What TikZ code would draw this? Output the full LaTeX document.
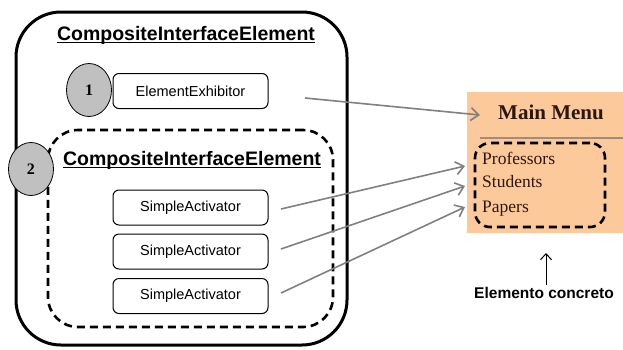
\documentclass[tikz,border=0pt]{standalone}
\usepackage{fontspec}
\setmainfont{Liberation Sans}
\newfontfamily\seriffont{Liberation Serif}
\usetikzlibrary{arrows.meta,shapes.geometric}
\definecolor{peach}{RGB}{252,201,155}
\definecolor{menutext}{RGB}{45,22,14}
\definecolor{conngray}{RGB}{128,128,128}
\tikzset{
  outerbox/.style={draw, line width=3pt, rounded corners=45pt, inner sep=0pt},
  dashbox/.style={draw, line width=2.6pt, dash pattern=on 8pt off 5pt, rounded corners=30pt, inner sep=0pt},
  menubox/.style={draw, line width=2.6pt, dash pattern=on 8pt off 5pt, rounded corners=15pt, inner sep=0pt},
  titletext/.style={font=\bfseries\fontsize{19.5}{22}\selectfont, inner sep=0pt, anchor=base},
  uline/.style={line width=1.6pt},
  numcircle/.style={draw, ellipse, fill={rgb,255:red,192;green,192;blue,192}, line width=0.8pt,
                    minimum width=45pt, minimum height=53pt, inner sep=0pt,
                    font=\seriffont\bfseries\fontsize{16}{18}\selectfont},
  elembox/.style={draw, rounded corners=6pt, line width=1pt, fill=white,
                  minimum width=155pt, minimum height=35pt, inner sep=0pt,
                  font=\fontsize{14.5}{17}\selectfont},
  conn/.style={draw=conngray, line width=1.6pt, -{Straight Barb[length=8pt,width=13pt,line width=1.6pt]}},
  panel/.style={fill=peach, inner sep=0pt, minimum width=156pt, minimum height=141pt},
  menutitle/.style={font=\seriffont\bfseries\fontsize{21}{24}\selectfont, text=menutext, inner sep=0pt, anchor=base},
  menuitem/.style={font=\seriffont\fontsize{17.5}{20}\selectfont, text=menutext, inner sep=0pt, anchor=base west},
  caption/.style={font=\bfseries\fontsize{15.5}{18}\selectfont, inner sep=0pt, anchor=base},
}
\begin{document}
\begin{tikzpicture}[x=1pt,y=-1pt]
\useasboundingbox (0,0) rectangle (623,349);
% left composite
\node[outerbox, minimum width=331pt, minimum height=333pt] (outer) at (181.5,178.5) {};
\node[titletext] (t1) at (186,40) {CompositeInterfaceElement};
\draw[uline] ([yshift=-2.6pt]t1.base west) -- ([yshift=-2.6pt]t1.base east);
\node[dashbox, minimum width=285pt, minimum height=197pt] (inner) at (190.5,228.5) {};
\node[titletext] (t2) at (192,165) {CompositeInterfaceElement};
\draw[uline] ([yshift=-2.6pt]t2.base west) -- ([yshift=-2.6pt]t2.base east);
\node[elembox] (ee) at (190.5,91) {ElementExhibitor};
\node[numcircle] (c1) at (89,90) {1};
\node[numcircle] (c2) at (31,169) {2};
\node[elembox] (sa1) at (190.5,207.5) {SimpleActivator};
\node[elembox] (sa2) at (190.5,251.5) {SimpleActivator};
\node[elembox] (sa3) at (190.5,296) {SimpleActivator};
% right panel
\node[panel] (panel) at (545,162.5) {};
\node[menutitle] (mm) at (551,119) {Main Menu};
\draw[line width=2pt, color={rgb,255:red,160;green,140;blue,125}] (480,138) -- (623,138);
\node[menubox, minimum width=130pt, minimum height=84pt] (mbox) at (540,185) {};
\node[menuitem] (prof) at (482,164) {Professors};
\node[menuitem] (stud) at (482,187) {Students};
\node[menuitem] (pap) at (482,212) {Papers};
\node[caption] (cap) at (544,298) {Elemento concreto};
\coordinate (uptip) at (546,253);
\draw[line width=1pt, -{Straight Barb[length=6pt,width=11pt,line width=1pt]}] ([xshift=2pt,yshift=2pt]cap.north) -- (uptip);
% connectors
\coordinate (s0) at (305,98);
\coordinate (s1) at (281,209);
\coordinate (s2) at (281,249);
\coordinate (s3) at (281,293);
\coordinate (e0) at (480,115);
\coordinate (e1) at (465,166);
\coordinate (e2) at (465,186);
\coordinate (e3) at (465,207);
\draw[conn] (s0) -- (e0);
\draw[conn] (s1) -- (e1);
\draw[conn] (s2) -- (e2);
\draw[conn] (s3) -- (e3);
\end{tikzpicture}
\end{document}
